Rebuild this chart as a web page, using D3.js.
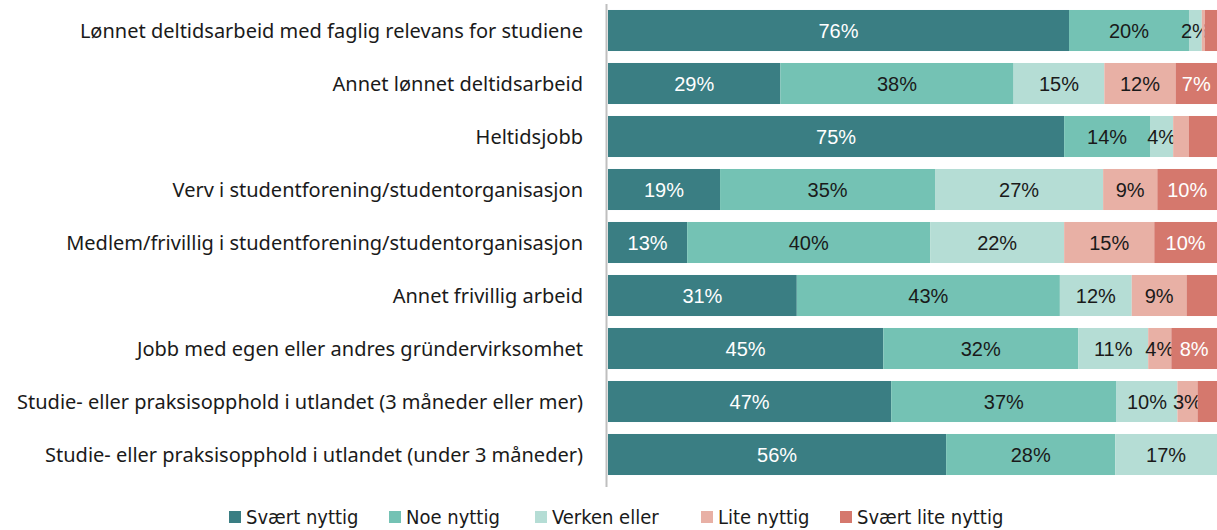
<!DOCTYPE html>
<html>
<head>
<meta charset="utf-8">
<script src="https://cdn.jsdelivr.net/npm/d3@7"></script>
<style>
  body { margin: 0; background: #fff; }
  svg { display: block; }
</style>
</head>
<body>
<div id="chart"></div>
<script>
var categories = [
  "Lønnet deltidsarbeid med faglig relevans for studiene",
  "Annet lønnet deltidsarbeid",
  "Heltidsjobb",
  "Verv i studentforening/studentorganisasjon",
  "Medlem/frivillig i studentforening/studentorganisasjon",
  "Annet frivillig arbeid",
  "Jobb med egen eller andres gründervirksomhet",
  "Studie- eller praksisopphold i utlandet (3 måneder eller mer)",
  "Studie- eller praksisopphold i utlandet (under 3 måneder)"
];
var seriesNames = ["Svært nyttig", "Noe nyttig", "Verken eller", "Lite nyttig", "Svært lite nyttig"];

// shares per category, in percent
var svaertNyttig     = [75.7, 28.3, 74.9, 18.4, 13.0, 31.0, 45.2, 46.5, 55.8];
var noeNyttig        = [19.7, 38.3, 14.1, 35.3, 39.9, 43.2, 32.0, 37.0, 27.9];
var verkenEller      = [2.1, 14.9, 3.8, 27.6, 22.0, 11.8, 11.5, 10.0, 16.8];
var liteNyttig       = [0.5, 11.7, 2.6, 8.9, 14.8, 9.0, 3.8, 3.3, 0];
var svaertLiteNyttig = [2.0, 6.8, 4.6, 9.8, 10.3, 5.0, 7.5, 3.2, 0];

// data labels as printed (blank = no label shown)
var labelsSvaert     = ["76%", "29%", "75%", "19%", "13%", "31%", "45%", "47%", "56%"];
var labelsNoe        = ["20%", "38%", "14%", "35%", "40%", "43%", "32%", "37%", "28%"];
var labelsVerken     = ["2%", "15%", "4%", "27%", "22%", "12%", "11%", "10%", "17%"];
var labelsLite       = ["", "12%", "", "9%", "15%", "9%", "4%", "3%", ""];
var labelsSvaertLite = ["", "7%", "", "10%", "10%", "", "8%", "", ""];

var colors = ["#3a7e83", "#74c2b4", "#b5ddd5", "#e8b0a5", "#d5786d"];
var textColors = ["#fff", "#1a1a1a", "#1a1a1a", "#1a1a1a", "#fff"];

var valueArrays = [svaertNyttig, noeNyttig, verkenEller, liteNyttig, svaertLiteNyttig];
var labelArrays = [labelsSvaert, labelsNoe, labelsVerken, labelsLite, labelsSvaertLite];

var rows = categories.map(function(c, i) {
  var r = {category: c};
  seriesNames.forEach(function(s, j) { r[s] = valueArrays[j][i]; });
  return r;
});

var width = 1217, height = 530;

var svg = d3.select("#chart").append("svg")
  .attr("width", width)
  .attr("height", height);

var x = d3.scaleLinear().domain([0, 1]).range([608, 1217]);
var y = d3.scaleBand().domain(categories).range([4, 481])
  .paddingInner(0.226).paddingOuter(0.113);

var stack = d3.stack().keys(seriesNames).offset(d3.stackOffsetExpand);
var series = stack(rows);

var groups = svg.selectAll("g.series")
  .data(series)
  .enter().append("g")
  .attr("class", "series")
  .attr("fill", function(d, i) { return colors[i]; });

groups.selectAll("rect")
  .data(function(d) { return d; })
  .enter().append("rect")
  .attr("x", function(d) { return x(d[0]); })
  .attr("y", function(d) { return y(d.data.category); })
  .attr("width", function(d) { return Math.max(0, x(d[1]) - x(d[0])); })
  .attr("height", y.bandwidth());

// segment labels
groups.each(function(s, j) {
  d3.select(this).selectAll("text")
    .data(s)
    .enter().append("text")
    .attr("x", function(d) { return (x(d[0]) + x(d[1])) / 2; })
    .attr("y", function(d) { return y(d.data.category) + y.bandwidth() / 2; })
    .attr("dy", "0.36em")
    .attr("text-anchor", "middle")
    .attr("fill", textColors[j])
    .style("font-family", "'Liberation Sans', Arial, sans-serif")
    .style("font-size", "20px")
    .text(function(d, i) { return labelArrays[j][i]; });
});

// vertical axis line
svg.append("line")
  .attr("x1", 606.5).attr("x2", 606.5)
  .attr("y1", 4).attr("y2", 487)
  .attr("stroke", "#bfbfbf")
  .attr("stroke-width", 2);

// category labels
svg.selectAll("text.cat")
  .data(categories)
  .enter().append("text")
  .attr("class", "cat")
  .attr("x", 583)
  .attr("y", function(d) { return y(d) + y.bandwidth() / 2; })
  .attr("dy", "0.36em")
  .attr("text-anchor", "end")
  .attr("fill", "#1a1a1a")
  .style("font-family", "'Noto Sans', sans-serif")
  .style("font-size", "20px")
  .text(function(d) { return d; });

// legend
var legendX = [229, 389, 535, 701, 840];
var legend = svg.selectAll("g.legend")
  .data(seriesNames)
  .enter().append("g")
  .attr("class", "legend")
  .attr("transform", function(d, i) { return "translate(" + legendX[i] + ",511)"; });

legend.append("rect")
  .attr("width", 12).attr("height", 12)
  .attr("fill", function(d, i) { return colors[i]; });

legend.append("text")
  .attr("x", 17)
  .attr("y", 6)
  .attr("dy", "0.36em")
  .attr("fill", "#1a1a1a")
  .style("font-family", "'Liberation Sans Narrow', 'DejaVu Sans Condensed', sans-serif")
  .style("font-size", "20px")
  .text(function(d) { return d; });
</script>
</body>
</html>
